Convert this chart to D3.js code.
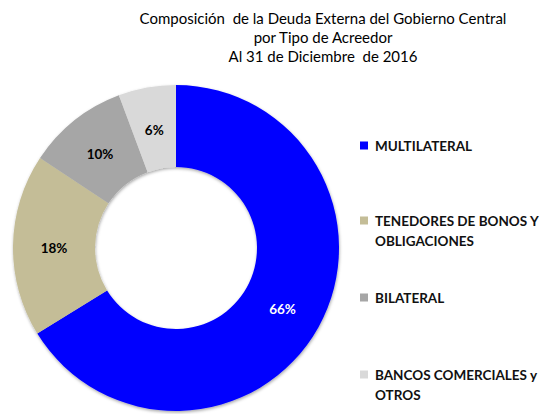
<!DOCTYPE html>
<html>
<head>
<meta charset="utf-8">
<script src="https://cdn.jsdelivr.net/npm/d3@7"></script>
<style>
  body { margin: 0; background: #fff; }
  svg { display: block; }
</style>
</head>
<body>
<svg id="chart" width="546" height="414"></svg>
<script>
// data
var categories = ["MULTILATERAL", "TENEDORES DE BONOS Y OBLIGACIONES", "BILATERAL", "BANCOS COMERCIALES y OTROS"];
var values = [66.2, 18.1, 10.0, 5.7];
var colors = ["#0000FF", "#C4BD97", "#A6A6A6", "#D9D9D9"];
var labelColors = ["#ffffff", "#000000", "#000000", "#000000"];
var legendLines = [["MULTILATERAL"], ["TENEDORES DE BONOS Y", "OBLIGACIONES"], ["BILATERAL"], ["BANCOS COMERCIALES y", "OTROS"]];
var titleLines = ["Composición  de la Deuda Externa del Gobierno Central", "por Tipo de Acreedor", "Al 31 de Diciembre  de 2016"];

var svg = d3.select("#chart"),
    cx = 176,
    cy = 248,
    outerR = 163,
    innerR = 81;

var defs = svg.append("defs");
defs.append("filter")
    .attr("id", "shadow")
    .attr("x", "-10%").attr("y", "-10%")
    .attr("width", "120%").attr("height", "120%")
    .append("feDropShadow")
    .attr("dx", 0.5)
    .attr("dy", 1.5)
    .attr("stdDeviation", 1.5)
    .attr("flood-color", "#000")
    .attr("flood-opacity", 0.35);

// title
svg.append("g")
    .attr("font-family", "Lato, 'Open Sans', sans-serif")
    .attr("font-size", 15)
    .attr("text-anchor", "middle")
    .attr("fill", "#000")
    .selectAll("text")
    .data(titleLines)
    .enter().append("text")
    .attr("x", 323)
    .attr("y", function (d, i) { return 24 + i * 19; })
    .attr("xml:space", "preserve")
    .style("white-space", "pre")
    .text(function (d) { return d; });

var pie = d3.pie()
    .sort(null)
    .value(function (d) { return d; });

var arc = d3.arc()
    .innerRadius(innerR)
    .outerRadius(outerR);

var g = svg.append("g")
    .attr("transform", "translate(" + cx + "," + cy + ")");

var arcs = pie(values);

g.append("g")
    .attr("filter", "url(#shadow)")
    .selectAll("path")
    .data(arcs)
    .enter().append("path")
    .attr("d", arc)
    .attr("fill", function (d, i) { return colors[i]; });

var total = d3.sum(values);
g.append("g")
    .attr("font-family", "Lato, 'Open Sans', sans-serif")
    .attr("font-weight", "bold")
    .attr("font-size", 13.5)
    .attr("text-anchor", "middle")
    .selectAll("text")
    .data(arcs)
    .enter().append("text")
    .attr("transform", function (d) {
        var c = arc.centroid(d);
        return "translate(" + c[0] + "," + (c[1] + 2) + ")";
    })
    .attr("dy", "0.35em")
    .attr("fill", function (d, i) { return labelColors[i]; })
    .text(function (d) { return Math.round(d.value / total * 100) + "%"; });

// legend
var legendY = [146, 221, 298, 375];
var legend = svg.append("g")
    .attr("font-family", "Lato, 'Open Sans', sans-serif")
    .attr("font-weight", "bold")
    .attr("font-size", 13.5)
    .attr("fill", "#111")
    .selectAll("g")
    .data(categories)
    .enter().append("g")
    .attr("transform", function (d, i) { return "translate(360," + legendY[i] + ")"; });

legend.append("rect")
    .attr("x", 0)
    .attr("y", -4.5)
    .attr("width", 8)
    .attr("height", 8)
    .attr("fill", function (d, i) { return colors[i]; });

legend.append("text")
    .attr("x", 15)
    .attr("y", 0)
    .each(function (d, i) {
        var t = d3.select(this);
        legendLines[i].forEach(function (line, j) {
            t.append("tspan")
                .attr("x", 15)
                .attr("y", j * 20)
                .attr("dy", "0.35em")
                .text(line);
        });
    });
</script>
</body>
</html>
